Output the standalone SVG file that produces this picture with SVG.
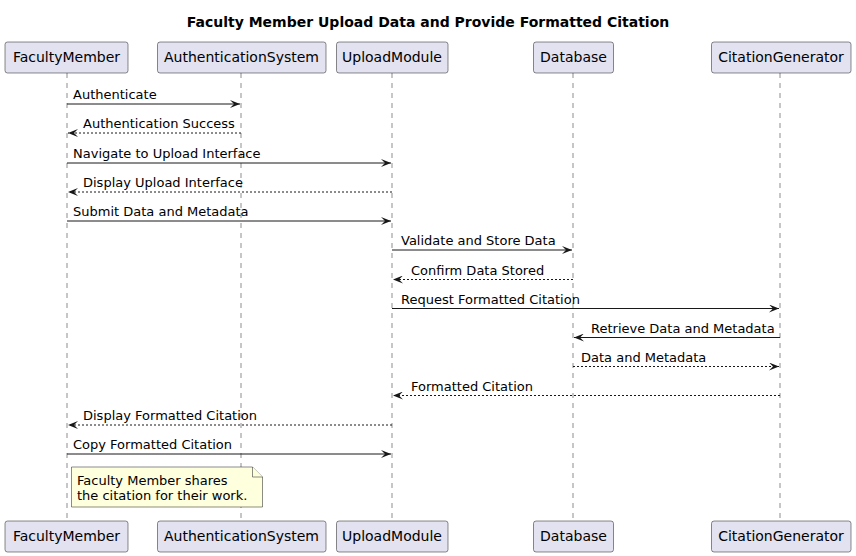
<svg xmlns="http://www.w3.org/2000/svg" width="856" height="556" viewBox="0 0 856 556">
<style>
.p{fill:#E2E2F0;stroke:#181818;stroke-width:0.5}
.pt{font-family:"DejaVu Sans",sans-serif;font-size:14px;fill:#000;text-anchor:middle}
.life{stroke:#181818;stroke-width:0.5;stroke-dasharray:5,5;fill:none}
.m{stroke:#181818;stroke-width:1;fill:none}
.d{stroke-dasharray:2,2}
.mt{font-family:"DejaVu Sans",sans-serif;font-size:13px;fill:#000}
.title{font-family:"DejaVu Sans",sans-serif;font-size:14px;font-weight:bold;fill:#000;text-anchor:middle}
.note{fill:#FEFFDD;stroke:#181818;stroke-width:0.5}
</style>
<defs>
<marker id="ah" viewBox="0 0 10 8" refX="10" refY="4" markerWidth="10" markerHeight="8" markerUnits="userSpaceOnUse" orient="auto">
<polygon points="0,0 10,4 0,8 4,4" fill="#181818"/>
</marker>
</defs>
<rect width="856" height="556" fill="#FFFFFF"/>
<text class="title" x="428" y="27">Faculty Member Upload Data and Provide Formatted Citation</text>
<g id="lifelines">
<line class="life" x1="67" y1="73" x2="67" y2="521"/>
<line class="life" x1="241" y1="73" x2="241" y2="521"/>
<line class="life" x1="392" y1="73" x2="392" y2="521"/>
<line class="life" x1="573" y1="73" x2="573" y2="521"/>
<line class="life" x1="780" y1="73" x2="780" y2="521"/>
</g>
<g id="FacultyMember">
<rect class="p" x="5" y="42" width="123" height="31" rx="2.5"/>
<text class="pt" x="66.5" y="62">FacultyMember</text>
<rect class="p" x="5" y="521" width="123" height="31" rx="2.5"/>
<text class="pt" x="66.5" y="541">FacultyMember</text>
</g>
<g id="AuthenticationSystem">
<rect class="p" x="157.5" y="42" width="168.5" height="31" rx="2.5"/>
<text class="pt" x="241.5" y="62">AuthenticationSystem</text>
<rect class="p" x="157.5" y="521" width="168.5" height="31" rx="2.5"/>
<text class="pt" x="241.5" y="541">AuthenticationSystem</text>
</g>
<g id="UploadModule">
<rect class="p" x="336.5" y="42" width="111.5" height="31" rx="2.5"/>
<text class="pt" x="392" y="62">UploadModule</text>
<rect class="p" x="336.5" y="521" width="111.5" height="31" rx="2.5"/>
<text class="pt" x="392" y="541">UploadModule</text>
</g>
<g id="Database">
<rect class="p" x="533.5" y="42" width="80" height="31" rx="2.5"/>
<text class="pt" x="573.5" y="62">Database</text>
<rect class="p" x="533.5" y="521" width="80" height="31" rx="2.5"/>
<text class="pt" x="573.5" y="541">Database</text>
</g>
<g id="CitationGenerator">
<rect class="p" x="711.5" y="42" width="139.5" height="31" rx="2.5"/>
<text class="pt" x="781" y="62">CitationGenerator</text>
<rect class="p" x="711.5" y="521" width="139.5" height="31" rx="2.5"/>
<text class="pt" x="781" y="541">CitationGenerator</text>
</g>
<g id="connectors">
<line class="m" x1="67" y1="104" x2="240" y2="104" marker-end="url(#ah)"/>
<text class="mt" x="73" y="99">Authenticate</text>
<line class="m d" x1="241" y1="133" x2="68" y2="133" marker-end="url(#ah)"/>
<text class="mt" x="83" y="128">Authentication Success</text>
<line class="m" x1="67" y1="163" x2="391" y2="163" marker-end="url(#ah)"/>
<text class="mt" x="73" y="158">Navigate to Upload Interface</text>
<line class="m d" x1="392" y1="192" x2="68" y2="192" marker-end="url(#ah)"/>
<text class="mt" x="83" y="187">Display Upload Interface</text>
<line class="m" x1="67" y1="221" x2="391" y2="221" marker-end="url(#ah)"/>
<text class="mt" x="73" y="216">Submit Data and Metadata</text>
<line class="m" x1="392" y1="250" x2="572" y2="250" marker-end="url(#ah)"/>
<text class="mt" x="401" y="245">Validate and Store Data</text>
<line class="m d" x1="573" y1="279.5" x2="393" y2="279.5" marker-end="url(#ah)"/>
<text class="mt" x="411" y="274.5">Confirm Data Stored</text>
<line class="m" x1="392" y1="308.5" x2="779" y2="308.5" marker-end="url(#ah)"/>
<text class="mt" x="401" y="303.5">Request Formatted Citation</text>
<line class="m" x1="780" y1="337.5" x2="574" y2="337.5" marker-end="url(#ah)"/>
<text class="mt" x="591" y="332.5">Retrieve Data and Metadata</text>
<line class="m d" x1="573" y1="366.5" x2="779" y2="366.5" marker-end="url(#ah)"/>
<text class="mt" x="581" y="361.5">Data and Metadata</text>
<line class="m d" x1="780" y1="395.5" x2="393" y2="395.5" marker-end="url(#ah)"/>
<text class="mt" x="411" y="390.5">Formatted Citation</text>
<line class="m d" x1="392" y1="425" x2="68" y2="425" marker-end="url(#ah)"/>
<text class="mt" x="83" y="420">Display Formatted Citation</text>
<line class="m" x1="67" y1="454" x2="391" y2="454" marker-end="url(#ah)"/>
<text class="mt" x="73" y="449">Copy Formatted Citation</text>
</g>
<g id="note">
<path class="note" d="M71.5,467 L252.5,467 L262.5,477 L262.5,507 L71.5,507 Z"/>
<path class="note" d="M252.5,467 L252.5,477 L262.5,477" fill="none"/>
<text class="mt" x="77" y="484.5">Faculty Member shares</text>
<text class="mt" x="77" y="500">the citation for their work.</text>
</g>
</svg>
